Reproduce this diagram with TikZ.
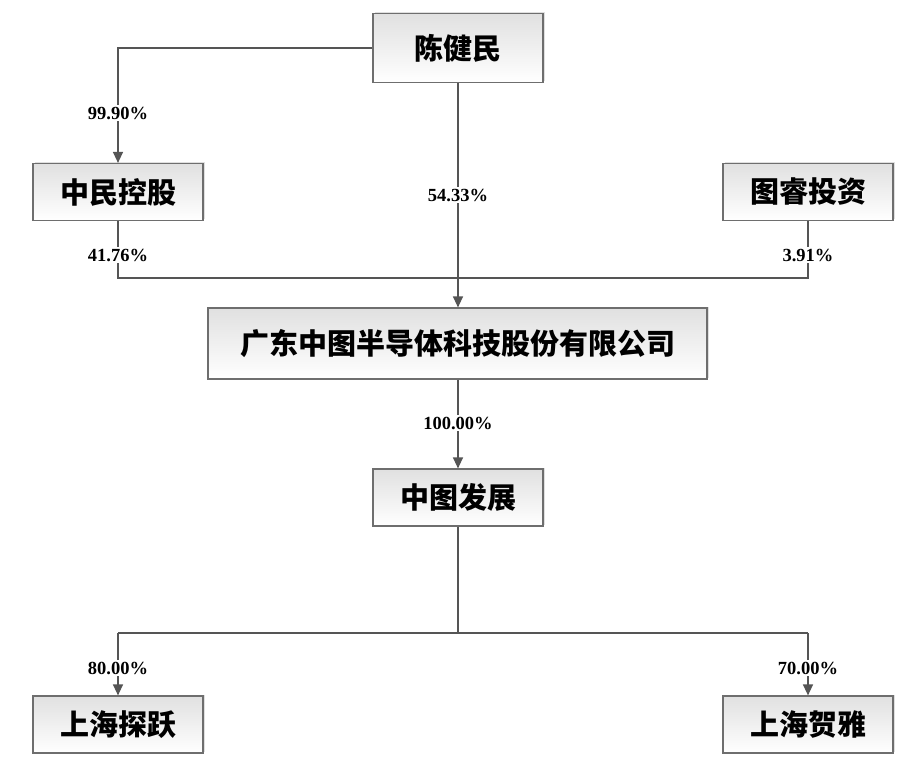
\documentclass[tikz,border=0pt]{standalone}
\usepackage{fontspec}
\setmainfont{Liberation Serif}
\newfontfamily\cjk{Noto Sans CJK SC}
\usetikzlibrary{arrows.meta,shadows}
\definecolor{edge}{HTML}{6E6E6E}
\definecolor{line}{HTML}{555555}
\tikzset{
  ent/.style={draw=edge, line width=1.2pt, top color=black!12, bottom color=white,
    minimum height=57pt, minimum width=170pt, inner sep=0pt,
    font=\cjk\bfseries\fontsize{29}{31}\selectfont, text=black,
    drop shadow={shadow xshift=1.5pt, shadow yshift=1.5pt, opacity=0.25, fill=black!50}},
  pct/.style={fill=white, inner sep=1.5pt, font=\bfseries\fontsize{18.5}{20}\selectfont, text=black},
  link/.style={draw=line, line width=1.3pt},
  arr/.style={link, -{Triangle[length=11pt,width=10pt]}}
}
\begin{document}
\begin{tikzpicture}[x=1pt,y=-1pt]
\useasboundingbox[fill=white] (0,0) rectangle (905,762);
\node[ent, minimum height=69pt] (A) at (458,48) {陈健民};
\node[ent] (B) at (118,192) {中民控股};
\node[ent] (C) at (808,192) {图睿投资};
\node[ent, minimum width=499pt, minimum height=71pt] (D) at (457.5,343.5) {广东中图半导体科技股份有限公司};
\node[ent] (E) at (458,497.5) {中图发展};
\node[ent] (F) at (118,724.5) {上海探跃};
\node[ent] (G) at (808,724.5) {上海贺雅};

\coordinate (j1) at (118,278);
\coordinate (j2) at (808,278);
\coordinate (j3) at (118,633);
\coordinate (j4) at (808,633);
\coordinate (j5) at (458,633);

% 陈健民 -> 中民控股
\draw[arr] (A.west) -| (B.north);
% 陈健民 -> main
\draw[arr] (A.south) -- (A.south |- D.north);
% 中民控股 / 图睿投资 joint line
\draw[link] (B.south) -- (j1) -- (j2) -- (C.south);
% main -> 中图发展
\draw[arr] (E.north |- D.south) -- (E.north);
% 中图发展 -> subsidiaries
\draw[link] (E.south) -- (j5);
\draw[link] (j3) -- (j4);
\draw[arr] (j3) -- (F.north);
\draw[arr] (j4) -- (G.north);

\node[pct] (p1) at (118,113) {99.90\%};
\node[pct] (p2) at (458,195) {54.33\%};
\node[pct] (p3) at (118,255) {41.76\%};
\node[pct] (p4) at (808,255) {3.91\%};
\node[pct] (p5) at (458,423) {100.00\%};
\node[pct] (p6) at (118,668) {80.00\%};
\node[pct] (p7) at (808,668) {70.00\%};
\end{tikzpicture}
\end{document}
